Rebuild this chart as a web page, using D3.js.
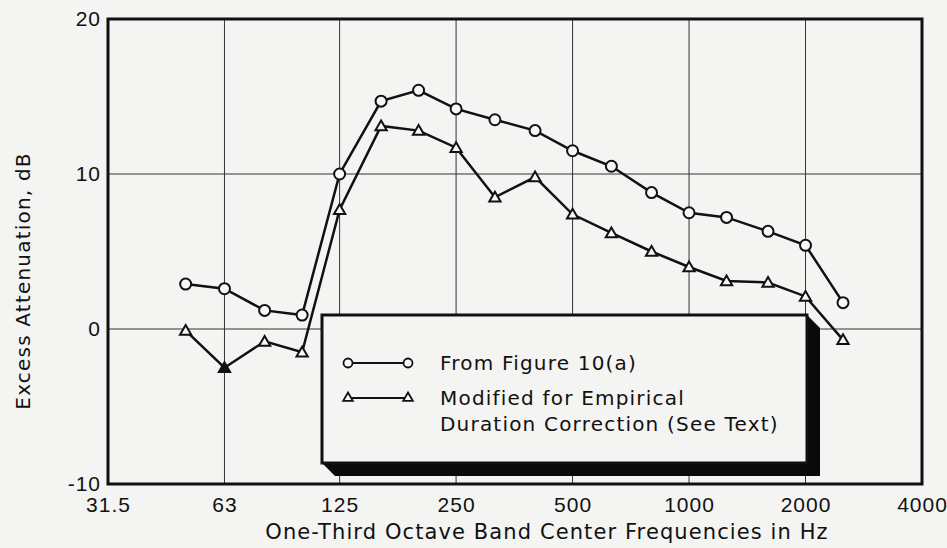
<!DOCTYPE html>
<html>
<head>
<meta charset="utf-8">
<script src="https://cdn.jsdelivr.net/npm/d3@7"></script>
<style>
  body { margin: 0; background: #f4f4f2; }
  svg { display: block; font-family: "DejaVu Sans", sans-serif; }
  .grid line { stroke: #333; stroke-width: 1; }
  .tick text { font-size: 21px; fill: #111; letter-spacing: 1px; }
</style>
</head>
<body>
<svg width="947" height="548"></svg>
<script>
// one-third octave band centres (Hz)
var bands = [50, 63, 80, 100, 125, 160, 200, 250, 315, 400, 500, 630, 800, 1000, 1250, 1600, 2000, 2500];

// excess attenuation, dB
var fromFigure = [2.9, 2.6, 1.2, 0.9, 10.0, 14.7, 15.4, 14.2, 13.5, 12.8, 11.5, 10.5, 8.8, 7.5, 7.2, 6.3, 5.4, 1.7];
var modified   = [-0.1, -2.5, -0.8, -1.5, 7.7, 13.1, 12.8, 11.7, 8.5, 9.8, 7.4, 6.2, 5.0, 4.0, 3.1, 3.0, 2.1, -0.7];

var xTicks = [31.5, 63, 125, 250, 500, 1000, 2000, 4000];
var yTicks = [-10, 0, 10, 20];

var legendLabels = [["From Figure 10(a)"], ["Modified for Empirical", "Duration Correction (See Text)"]];

var svg = d3.select("svg");

var x = d3.scaleLog()
    .domain([31.5, 4000])
    .range([108, 922]);

var y = d3.scaleLinear()
    .domain([-10, 20])
    .range([484, 19]);

// grid
var grid = svg.append("g").attr("class", "grid");
grid.selectAll(".v")
    .data(xTicks.slice(1, -1))
    .enter().append("line")
    .attr("x1", function(d) { return x(d); })
    .attr("x2", function(d) { return x(d); })
    .attr("y1", y(20))
    .attr("y2", y(-10));
grid.selectAll(".h")
    .data(yTicks.slice(1, -1))
    .enter().append("line")
    .attr("x1", x(31.5))
    .attr("x2", x(4000))
    .attr("y1", function(d) { return y(d); })
    .attr("y2", function(d) { return y(d); });

// axes
svg.append("g")
    .attr("transform", "translate(0," + y(-10) + ")")
    .call(d3.axisBottom(x).tickValues(xTicks).tickSize(0).tickPadding(13)
        .tickFormat(function(d) { return d == 31.5 ? "31.5" : d3.format("d")(d); }))
    .call(function(g) { g.select(".domain").remove(); });

svg.append("g")
    .attr("transform", "translate(" + x(31.5) + ",0)")
    .call(d3.axisLeft(y).tickValues(yTicks).tickSize(0).tickPadding(7)
        .tickFormat(function(d) { return String(d); }))
    .call(function(g) { g.select(".domain").remove(); });

// frame
svg.append("rect")
    .attr("x", x(31.5))
    .attr("y", y(20))
    .attr("width", x(4000) - x(31.5))
    .attr("height", y(-10) - y(20))
    .attr("fill", "none")
    .attr("stroke", "#111")
    .attr("stroke-width", 3);

// axis titles
svg.append("text")
    .attr("x", 547)
    .attr("y", 539)
    .attr("text-anchor", "middle")
    .attr("font-size", 21)
    .attr("letter-spacing", 1.1)
    .attr("fill", "#111")
    .text("One-Third Octave Band Center Frequencies in Hz");

svg.append("text")
    .attr("transform", "translate(30,281) rotate(-90)")
    .attr("text-anchor", "middle")
    .attr("font-size", 20)
    .attr("letter-spacing", 1.2)
    .attr("fill", "#111")
    .text("Excess Attenuation, dB");

// series
var line = d3.line()
    .x(function(d) { return x(d[0]); })
    .y(function(d) { return y(d[1]); });

var circleData = d3.zip(bands, fromFigure);
var triData = d3.zip(bands, modified);

svg.append("path")
    .datum(circleData)
    .attr("fill", "none")
    .attr("stroke", "#111")
    .attr("stroke-width", 2.5)
    .attr("d", line);

svg.append("path")
    .datum(triData)
    .attr("fill", "none")
    .attr("stroke", "#111")
    .attr("stroke-width", 2.5)
    .attr("d", line);

var tri = d3.symbol().type(d3.symbolTriangle).size(55);

function drawMarkers(data, kind) {
    var g = svg.append("g");
    if (kind == "circle") {
        g.selectAll("circle")
            .data(data)
            .enter().append("circle")
            .attr("cx", function(d) { return x(d[0]); })
            .attr("cy", function(d) { return y(d[1]); })
            .attr("r", 5.5)
            .attr("fill", "#f8f8f6")
            .attr("stroke", "#111")
            .attr("stroke-width", 2);
    } else {
        g.selectAll("path")
            .data(data)
            .enter().append("path")
            .attr("transform", function(d) { return "translate(" + x(d[0]) + "," + (y(d[1]) + 1) + ")"; })
            .attr("d", tri)
            .attr("fill", function(d) { return d[0] == 63 ? "#111" : "#f8f8f6"; })
            .attr("stroke", "#111")
            .attr("stroke-width", 2);
    }
}
drawMarkers(circleData, "circle");
drawMarkers(triData, "tri");

// legend with 3-d shadow
var lx = 322, ly = 315, lw = 485, lh = 148, d = 13;
svg.append("polygon")
    .attr("points", [[lx, ly + lh], [lx + d, ly + lh + d], [lx + lw + d, ly + lh + d],
                     [lx + lw + d, ly + d], [lx + lw, ly]].join(" "))
    .attr("fill", "#0a0a0a");
svg.append("rect")
    .attr("x", lx).attr("y", ly)
    .attr("width", lw).attr("height", lh)
    .attr("fill", "#f4f4f2")
    .attr("stroke", "#111")
    .attr("stroke-width", 3);

var legend = svg.append("g");
var rows = [363, 398];
rows.forEach(function(ry, i) {
    legend.append("line")
        .attr("x1", 348).attr("x2", 408)
        .attr("y1", ry).attr("y2", ry)
        .attr("stroke", "#111").attr("stroke-width", 2);
    [348, 408].forEach(function(px) {
        if (i == 0) {
            legend.append("circle").attr("cx", px).attr("cy", ry).attr("r", 4.5)
                .attr("fill", "#f8f8f6").attr("stroke", "#111").attr("stroke-width", 1.8);
        } else {
            legend.append("path").attr("transform", "translate(" + px + "," + ry + ")")
                .attr("d", d3.symbol().type(d3.symbolTriangle).size(40))
                .attr("fill", "#f8f8f6").attr("stroke", "#111").attr("stroke-width", 1.8);
        }
    });
    legendLabels[i].forEach(function(t, j) {
        legend.append("text")
            .attr("x", 440)
            .attr("y", ry + 7 + j * 26)
            .attr("font-size", 20)
            .attr("letter-spacing", 1.2)
            .attr("fill", "#111")
            .text(t);
    });
});
</script>
</body>
</html>
